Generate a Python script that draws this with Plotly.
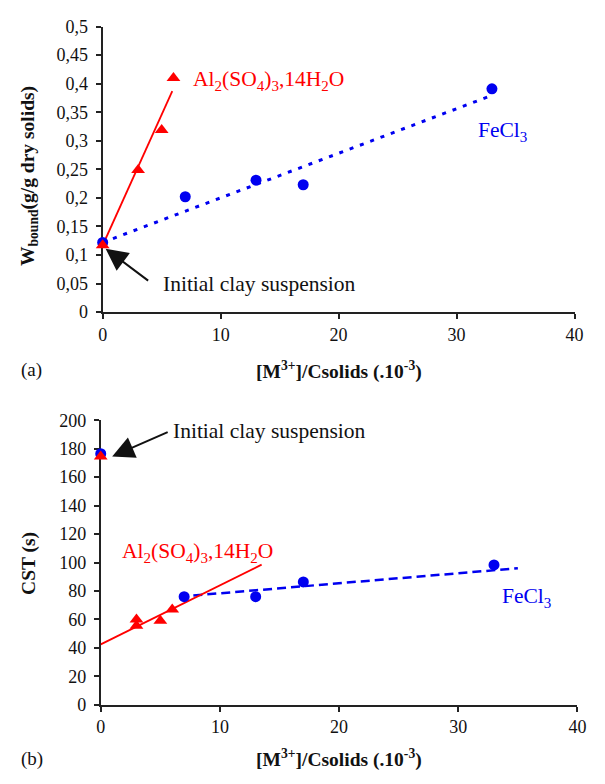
import plotly.graph_objects as go

# ---- data (a) ----
fe_x_a = [0, 7, 13, 17, 33]
fe_y_a = [0.122, 0.202, 0.231, 0.223, 0.391]
al_x_a = [0, 3, 5, 6]
al_y_a = [0.117, 0.249, 0.319, 0.41]
fe_trend_x_a = [0, 32.8]
fe_trend_y_a = [0.122, 0.378]
al_trend_x_a = [0, 5.9]
al_trend_y_a = [0.117, 0.387]

# ---- data (b) ----
fe_x_b = [0, 7, 13, 17, 33]
fe_y_b = [176.5, 76, 76, 86.4, 98.3]
al_x_b = [0, 3, 3, 5, 6]
al_y_b = [174.5, 60, 55.5, 59, 67]
fe_trend_x_b = [6.6, 35]
fe_trend_y_b = [76, 96]
al_trend_x_b = [0, 13.5]
al_trend_y_b = [42.5, 98.5]

# ---- ticks ----
ytick_vals_a = [0, 0.05, 0.1, 0.15, 0.2, 0.25, 0.3, 0.35, 0.4, 0.45, 0.5]
ytick_text_a = ["0", "0,05", "0,1", "0,15", "0,2", "0,25", "0,3", "0,35", "0,4", "0,45", "0,5"]
ytick_vals_b = [0, 20, 40, 60, 80, 100, 120, 140, 160, 180, 200]
xtick_vals = [0, 10, 20, 30, 40]

BLUE = "#0000F0"
RED = "#FF0000"
FONT = "Liberation Serif"
W, H = 605, 784

fig = go.Figure()

# (a) traces
fig.add_trace(go.Scatter(x=fe_trend_x_a, y=fe_trend_y_a, mode="lines",
                         line=dict(color=BLUE, width=3, dash="4px,7px"),
                         xaxis="x", yaxis="y", cliponaxis=False))
fig.add_trace(go.Scatter(x=al_trend_x_a, y=al_trend_y_a, mode="lines",
                         line=dict(color=RED, width=1.8),
                         xaxis="x", yaxis="y", cliponaxis=False))
fig.add_trace(go.Scatter(x=fe_x_a, y=fe_y_a, mode="markers",
                         marker=dict(color=BLUE, size=11, symbol="circle"),
                         xaxis="x", yaxis="y", cliponaxis=False))
fig.add_trace(go.Scatter(x=al_x_a, y=al_y_a, mode="markers",
                         marker=dict(color=RED, size=12, symbol="triangle-up"),
                         xaxis="x", yaxis="y", cliponaxis=False))

# (b) traces
fig.add_trace(go.Scatter(x=fe_trend_x_b, y=fe_trend_y_b, mode="lines",
                         line=dict(color=BLUE, width=2.5, dash="9px,5px"),
                         xaxis="x2", yaxis="y2", cliponaxis=False))
fig.add_trace(go.Scatter(x=al_trend_x_b, y=al_trend_y_b, mode="lines",
                         line=dict(color=RED, width=1.8),
                         xaxis="x2", yaxis="y2", cliponaxis=False))
fig.add_trace(go.Scatter(x=fe_x_b, y=fe_y_b, mode="markers",
                         marker=dict(color=BLUE, size=11, symbol="circle"),
                         xaxis="x2", yaxis="y2", cliponaxis=False))
fig.add_trace(go.Scatter(x=al_x_b, y=al_y_b, mode="markers",
                         marker=dict(color=RED, size=12, symbol="triangle-up"),
                         xaxis="x2", yaxis="y2", cliponaxis=False))

axis_common = dict(showgrid=False, zeroline=False, showline=True, linecolor="#222222",
                   linewidth=2, ticks="outside", ticklen=5, tickwidth=2, tickcolor="#222222",
                   tickfont=dict(family=FONT, size=18, color="#111111"), layer="below traces")

def px_x(p):
    return p / W

def px_y(p):
    return 1 - p / H

fig.update_layout(
    width=W, height=H,
    margin=dict(l=0, r=0, t=0, b=0),
    paper_bgcolor="white", plot_bgcolor="white",
    showlegend=False,
    xaxis=dict(domain=[px_x(100), px_x(583)], range=[0, 40], tickvals=xtick_vals,
               anchor="y", **axis_common),
    yaxis=dict(domain=[px_y(310), px_y(17)], range=[0, 0.5], tickvals=ytick_vals_a,
               ticktext=ytick_text_a, anchor="x", ticklabelstandoff=4, **axis_common),
    xaxis2=dict(domain=[px_x(98), px_x(586)], range=[0, 40], tickvals=xtick_vals,
                anchor="y2", **axis_common),
    yaxis2=dict(domain=[px_y(713), px_y(421)], range=[0, 200], tickvals=ytick_vals_b,
                anchor="x2", ticklabelstandoff=4, **axis_common),
)

ann_font = dict(family=FONT, size=21.5)
title_font = dict(family=FONT, size=19.5, color="#111111")


def txt(x, y, text, font, xanchor="left", yanchor="middle", **kw):
    return dict(x=px_x(x), y=px_y(y), xref="paper", yref="paper", xanchor=xanchor,
                yanchor=yanchor, text=text, showarrow=False, font=font, **kw)


annotations = [
    # (a) labels
    txt(190, 72, "Al<sub>2</sub>(SO<sub>4</sub>)<sub>3</sub>,14H<sub>2</sub>O", dict(color=RED, **ann_font)),
    txt(482, 125, "FeCl<sub>3</sub>", dict(color=BLUE, **ann_font)),
    txt(160, 281, "Initial clay suspension", dict(color="#111111", **ann_font)),
    dict(x=0.25, y=0.111, xref="x", yref="y", ax=44, ay=33, text="", showarrow=True,
         arrowhead=2, arrowsize=2.2, arrowwidth=2, arrowcolor="#111111", standoff=0),
    txt(24, 170, "<b>W<sub>bound</sub>(g/g dry solids)</b>", title_font,
        xanchor="center", textangle=-90),
    txt(342, 370, "<b>[M<sup>3+</sup>]/Csolids (.10<sup>-3</sup>)</b>", title_font, xanchor="center"),
    txt(14, 369, "(a)", dict(family=FONT, size=19, color="#111111")),
    # (b) labels
    txt(118, 557, "Al<sub>2</sub>(SO<sub>4</sub>)<sub>3</sub>,14H<sub>2</sub>O", dict(color=RED, **ann_font)),
    txt(507, 603, "FeCl<sub>3</sub>", dict(color=BLUE, **ann_font)),
    txt(170, 432, "Initial clay suspension", dict(color="#111111", **ann_font)),
    dict(x=0.96, y=174.6, xref="x2", yref="y2", ax=57, ay=-25, text="", showarrow=True,
         arrowhead=2, arrowsize=2.2, arrowwidth=2, arrowcolor="#111111", standoff=0),
    txt(24, 568, "<b>CST (s)</b>", title_font, xanchor="center", textangle=-90),
    txt(342, 768, "<b>[M<sup>3+</sup>]/Csolids (.10<sup>-3</sup>)</b>", title_font, xanchor="center"),
    txt(14, 769, "(b)", dict(family=FONT, size=19, color="#111111")),
]
fig.update_layout(annotations=annotations)

fig.write_html("out.html")
